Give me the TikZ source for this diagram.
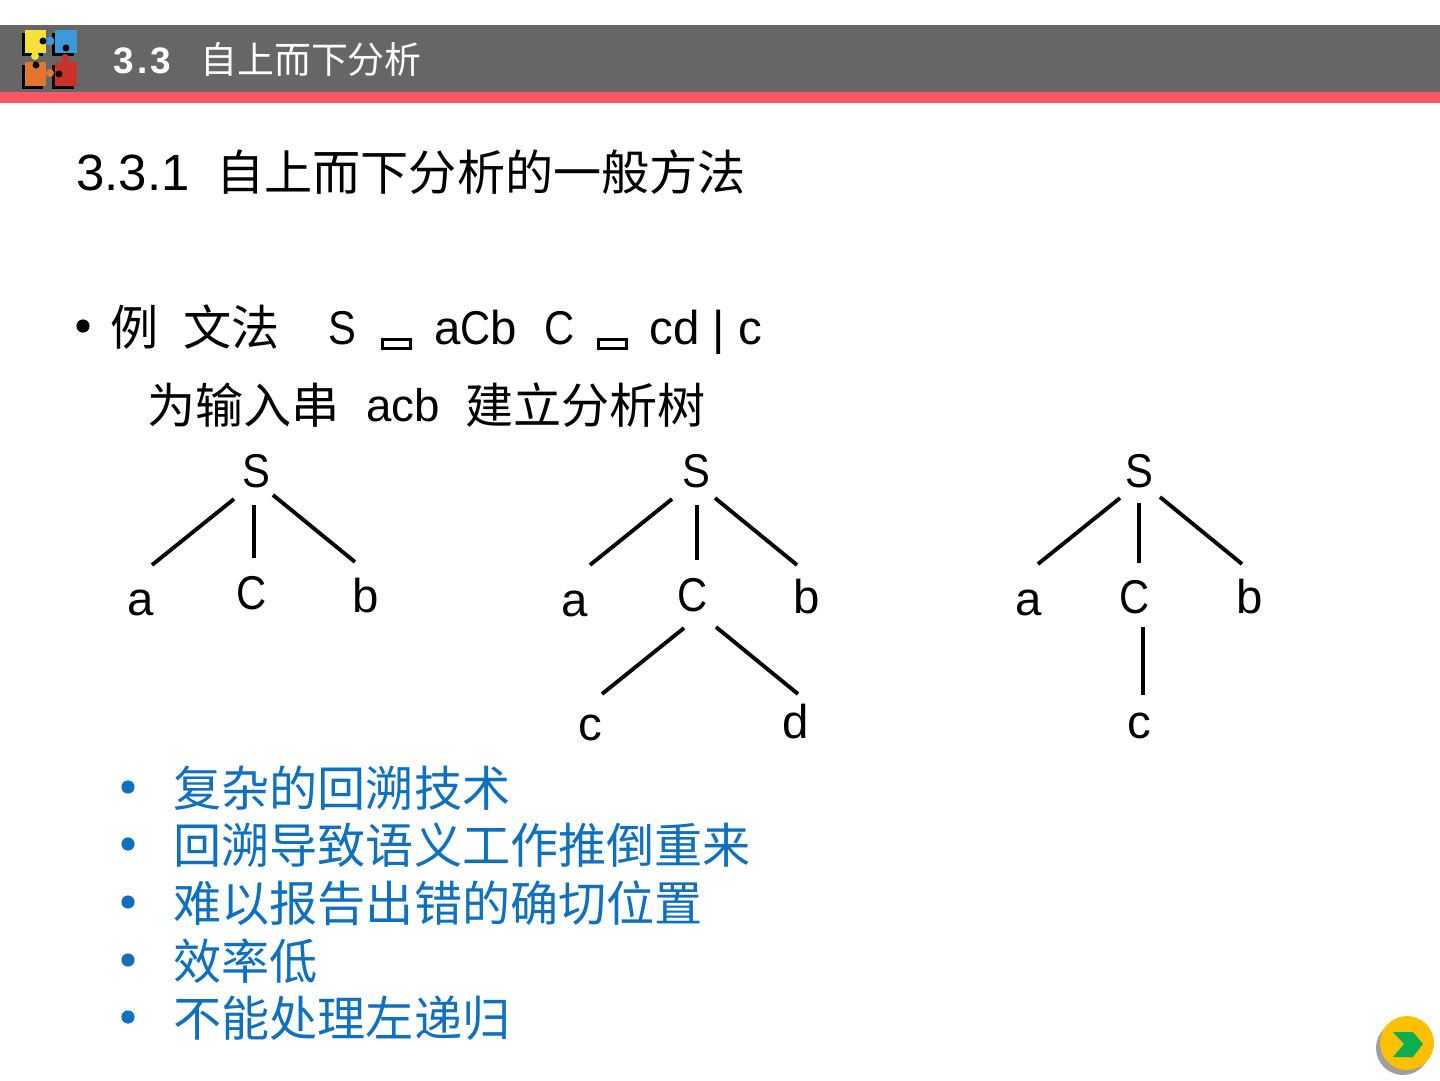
\documentclass[tikz,border=0pt]{standalone}
\usepackage{fontspec}
\setmainfont{Liberation Sans}
\newfontfamily\cjk{Noto Sans CJK SC}
\newfontfamily\numfont[LetterSpace=9]{Liberation Sans}
\newcommand{\narrowcap}[1]{\scalebox{0.88}[1]{#1}}
\definecolor{bargray}{HTML}{666666}
\definecolor{barred}{HTML}{F95766}
\definecolor{noteblue}{HTML}{0F70C0}
\definecolor{pzyellow}{HTML}{F6E03A}
\definecolor{pzblue}{HTML}{3C9ADB}
\definecolor{pzorange}{HTML}{E3762F}
\definecolor{pzred}{HTML}{CB3029}
\definecolor{btnyellow}{HTML}{FFC000}
\definecolor{btngreen}{HTML}{0CAF50}
\tikzset{
	lat/.style={anchor=base west,inner sep=0,font=\fontsize{27pt}{27pt}\selectfont},
	han/.style={anchor=base west,inner sep=0,font=\fontsize{27.4pt}{27.4pt}\selectfont\cjk},
	note/.style={han,text=noteblue},
	dot/.style={circle,fill,inner sep=0,minimum size=7.5pt},
	leaf/.style={inner sep=0,font=\fontsize{27pt}{27pt}\selectfont},
	edge/.style={line width=2.2pt,black},
	sym/.style={draw,line width=1.8pt,inner sep=0,minimum width=15.5pt,minimum height=5.5pt},
}
\begin{document}
\begin{tikzpicture}[x=0.02cm,y=-0.02cm]
\useasboundingbox (0,0) rectangle (1440,1080);
% title bar
\fill[bargray] (0,25) rectangle (1440,92);
\fill[barred] (0,92) rectangle (1440,103);
% logo
\fill[black] (22,33) rectangle (43,56);
\fill[black] (52,33) rectangle (74,56);
\fill[black] (22,65) rectangle (43,89);
\fill[black] (52,65) rectangle (74,89);
\fill[pzyellow] (25,30) rectangle (46,53);
\fill[pzyellow] (35,56) circle (4);
\fill[pzblue] (55,30) rectangle (77,53);
\fill[pzblue] (50,41) circle (4.5);
\fill[pzorange] (25,62) rectangle (46,86);
\fill[pzorange] (50,73) circle (4);
\fill[pzred] (55,62) rectangle (77,86);
\fill[pzred] (65,58) circle (4);
\fill[black] (43,41) circle (3.5);
\fill[black] (66,48) circle (3.5);
\fill[black] (36,65) circle (3.5);
\fill[black] (59,74) circle (3.5);
% button
\fill[gray!75] (1403,1048) circle (27);
\fill[btnyellow] (1407,1043) circle (27);
\fill[btngreen] (1393,1032) -- (1413,1032) -- (1423,1044) -- (1413,1057) -- (1393,1057) -- (1404,1044) -- cycle;
% title and heading
\node[anchor=base west,inner sep=0,text=white,font=\fontsize{21pt}{21pt}\selectfont\numfont\bfseries] (num) at (113,73) {3.3};
\node[anchor=base west,inner sep=0,text=white,font=\fontsize{21pt}{21pt}\selectfont\cjk] (title) at (200,73) {自上而下分析};
\node[lat,font=\fontsize{29pt}{29pt}\selectfont] (secnum) at (76,190) {3.3.1};
\node[han] (sec) at (216,190) {自上而下分析的一般方法};
% grammar
\node[dot] (dotmain) at (83,326) {};
\node[han] (li) at (110,345) {例};
\node[han] (wenfa) at (183,345) {文法};
\node[lat] (gs) at (328,344) {\narrowcap{S}};
\node[sym] (toa) at (396.5,344) {};
\node[lat] (acb) at (434,344) {a\narrowcap{C}b};
\node[lat] (gc) at (544,344) {\narrowcap{C}};
\node[sym] (tob) at (612.5,344) {};
\node[lat] (alt) at (649,344) {cd | c};
\node[han] (wei) at (147,423) {为输入串};
\node[lat,font=\fontsize{26pt}{26pt}\selectfont] (input) at (366,421) {acb};
\node[han] (jian) at (465,423) {建立分析树};
% first tree
\node[leaf] (S1) at (256,471) {\narrowcap{S}};
\node[leaf] (a1) at (141,603) {a};
\node[leaf] (C1) at (252,593) {\narrowcap{C}};
\node[leaf] (b1) at (366,596) {b};
\draw[edge] ([shift={(-22,28)}]S1.center)--([shift={(11,-38)}]a1.center);
\draw[edge] ([shift={(-2,34)}]S1.center)--([shift={(2,-35)}]C1.center);
\draw[edge] ([shift={(17,24)}]S1.center)--([shift={(-11,-34)}]b1.center);
% second tree
\node[leaf] (S2) at (696,471) {\narrowcap{S}};
\node[leaf] (a2) at (575,604) {a};
\node[leaf] (C2) at (693,595) {\narrowcap{C}};
\node[leaf] (b2) at (807,597) {b};
\node[leaf] (c2) at (590,728) {c};
\node[leaf] (d2) at (796,722) {d};
\draw[edge] ([shift={(-24,28)}]S2.center)--([shift={(15,-39)}]a2.center);
\draw[edge] ([shift={(1,34)}]S2.center)--([shift={(4,-35)}]C2.center);
\draw[edge] ([shift={(19,27)}]S2.center)--([shift={(-10,-32)}]b2.center);
\draw[edge] ([shift={(-9,33)}]C2.center)--([shift={(12,-34)}]c2.center);
\draw[edge] ([shift={(23,32)}]C2.center)--([shift={(2,-28)}]d2.center);
% third tree
\node[leaf] (S3) at (1139,471) {\narrowcap{S}};
\node[leaf] (a3) at (1029,603) {a};
\node[leaf] (C3) at (1135,597) {\narrowcap{C}};
\node[leaf] (b3) at (1250,597) {b};
\node[leaf] (c3) at (1139,726) {c};
\draw[edge] ([shift={(-19,27)}]S3.center)--([shift={(9,-39)}]a3.center);
\draw[edge] ([shift={(0,32)}]S3.center)--([shift={(4,-34)}]C3.center);
\draw[edge] ([shift={(21,26)}]S3.center)--([shift={(-8,-33)}]b3.center);
\draw[edge] ([shift={(8,30)}]C3.center)--([shift={(4,-31)}]c3.center);
% remarks
\foreach \i/\y/\t in {1/806/复杂的回溯技术,2/863/回溯导致语义工作推倒重来,3/921/难以报告出错的确切位置,4/979/效率低,5/1036/不能处理左递归}{
	\node[dot,text=noteblue,fill=noteblue] (dot\i) at (128,\y-19) {};
	\node[note] (line\i) at (173,\y) {\t};
}
\end{tikzpicture}
\end{document}
